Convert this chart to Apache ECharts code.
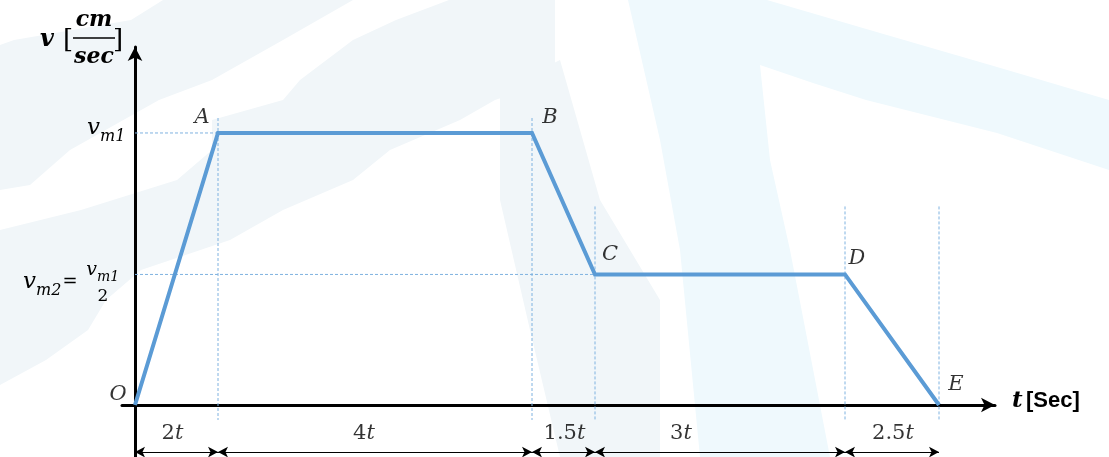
<!DOCTYPE html>
<html><head><meta charset="utf-8">
<script src="https://cdn.jsdelivr.net/npm/echarts@6/dist/echarts.min.js"></script>
<style>html,body{margin:0;padding:0;background:#fff}#c{width:1109px;height:457px}</style>
</head><body><div id="c"></div>
<script>
// ---- data ----
const pointNames = ['O', 'A', 'B', 'C', 'D', 'E'];
const timePos = [0, 83, 397, 460, 710, 804];        // break points along time axis (drawing units)
const velocity = [0, 1, 1, 0.48, 0.48, 0];           // in units of v_m1
const intervalLabels = ['2', '4', '1.5', '3', '2.5']; // each is "× t"
const vm1 = 1;
const vm2 = 0.48;

// ---- styling helpers ----
const SERIF = '"DejaVu Serif", serif';
const BLUE = '#5b9bd5';
const GUIDE = '#7fb2e0';
const labelOffsets = [[-17, -10], [-16, -15], [18, -15], [15, -20], [12, -16], [17, -20]];
const dimLabelShift = [-4, -11, 1, -39, 1];

const chart = echarts.init(document.getElementById('c'), null, {renderer: 'canvas'});

const guideSeries = [];
function guide(pts) {
  guideSeries.push({
    type: 'line', data: pts, symbol: 'none', silent: true, z: 1,
    lineStyle: {color: GUIDE, width: 1, type: [3, 2]}, animation: false
  });
}
for (let i = 1; i < timePos.length; i++) {
  const top = velocity[i] >= vm1 ? vm1 + 0.055 : vm2 + 0.25;
  guide([[timePos[i], top], [timePos[i], -0.055]]);
}
guide([[0, vm1], [timePos[1], vm1]]);
guide([[0, vm2], [timePos[3], vm2]]);

const dimY = -0.173;
const dimLines = intervalLabels.map((lab, i) => [
  {coord: [timePos[i], dimY]},
  {coord: [timePos[i + 1], dimY]}
]);

const axisCommon = {
  type: 'value',
  axisTick: {show: false}, axisLabel: {show: false}, splitLine: {show: false},
  axisLine: {onZero: true, symbol: ['none', 'arrow'], symbolSize: [11, 14],
    lineStyle: {color: '#000', width: 3}}
};

chart.setOption({
  animation: false,
  grid: {left: 122, width: 873, top: 47, height: 410, outerBoundsMode: 'none', containLabel: false},
  xAxis: Object.assign({}, axisCommon, {min: -13, max: 860}),
  yAxis: Object.assign({}, axisCommon, {min: -0.191, max: 1.316}),
  series: guideSeries.concat([
    {
      type: 'line', name: 'v', z: 5, symbol: 'none',
      data: timePos.map((t, i) => [t, velocity[i]]),
      lineStyle: {color: BLUE, width: 4, join: 'miter'},
      markLine: {
        silent: true, symbol: ['arrow', 'arrow'], symbolSize: [8, 10],
        lineStyle: {color: '#000', width: 1, type: 'solid'},
        label: {show: false},
        emphasis: {disabled: true},
        data: dimLines
      }
    },
    {
      type: 'scatter', z: 6, symbolSize: 0, silent: true,
      data: timePos.map((t, i) => ({
        value: [t, velocity[i]], name: pointNames[i],
        label: {offset: labelOffsets[i]}
      })),
      label: {show: true, position: 'inside', formatter: p => p.name,
        fontFamily: SERIF, fontStyle: 'italic', fontSize: 21, color: '#000'}
    },
    {
      type: 'scatter', z: 6, symbolSize: 0, silent: true,
      data: intervalLabels.map((lab, i) => ({
        value: [(timePos[i] + timePos[i + 1]) / 2, dimY], name: lab,
        label: {offset: [dimLabelShift[i], -19]}
      })),
      label: {show: true, position: 'inside', formatter: p => '{n|' + p.name + '}{t|t}',
        rich: {n: {fontFamily: SERIF, fontSize: 21, color: '#000'},
               t: {fontFamily: SERIF, fontSize: 21, fontStyle: 'italic', color: '#000'}}}
    }
  ])
});

const P = v => chart.convertToPixel({gridIndex: 0}, [0, v]);
const y1 = P(vm1)[1], y2 = P(vm2)[1];
function txt(text, x, y, size, opt) {
  return {type: 'text', z: 10, silent: true, style: Object.assign({
    text, x, y, fill: '#000', font: 'italic ' + size + 'px ' + SERIF,
    textAlign: 'left', textVerticalAlign: 'middle'}, opt || {})};
}
function poly(points, fill) {
  return {type: 'polygon', z: -10, silent: true, shape: {points}, style: {fill}};
}
const WL = '#f1f6f9', WR = '#eff9fd';
chart.setOption({graphic: [
  poly([[163,0],[353,0],[283,40],[212,80],[159,100],[70,150],[30,185],[0,190],[0,45],[14,40],[131,20]], WL),
  poly([[449,0],[555,0],[555,80],[495,100],[460,120],[390,150],[353,180],[283,210],[230,240],[141,270],[106,300],[88,330],[46,360],[0,385],[0,230],[81,210],[177,180],[212,150],[212,120],[283,100],[300,80],[353,40],[396,20]], WL),
  poly([[500,90],[560,60],[600,200],[660,300],[660,457],[560,457],[530,330],[500,200]], WL),
  poly([[628,0],[767,0],[880,33],[997,67],[1109,100],[1109,170],[997,133],[866,100],[813,83],[760,65],[770,160],[790,250],[830,457],[700,457],[680,250],[660,140]], WR),
  txt('v', 100, y1 - 5, 23, {textAlign: 'right'}),
  txt('m1', 100, y1 + 4, 16),
  txt('v', 36, y2 + 8, 23, {textAlign: 'right'}),
  txt('m2', 36, y2 + 16, 16),
  txt('=', 70, y2 + 8, 18, {textAlign: 'center', font: '18px ' + SERIF}),
  txt('v', 97, y2 - 4, 19, {textAlign: 'right'}),
  txt('m1', 97, y2 + 3, 14),
  txt('2', 103, y2 + 22, 17, {textAlign: 'center', font: '17px ' + SERIF}),
  txt('v', 47, 40, 24, {textAlign: 'center', font: 'italic bold 24px ' + SERIF}),
  txt('[', 68, 41, 26, {textAlign: 'center', font: '26px ' + SERIF}),
  txt(']', 118, 41, 26, {textAlign: 'center', font: '26px ' + SERIF}),
  txt('cm', 94, 20, 22, {textAlign: 'center', font: 'italic bold 22px ' + SERIF}),
  txt('sec', 94, 57, 22, {textAlign: 'center', font: 'italic bold 22px ' + SERIF}),
  {type: 'line', z: 10, silent: true, shape: {x1: 73, y1: 38, x2: 115, y2: 38}, style: {stroke: '#000', lineWidth: 1.3}},
  {type: 'text', z: 10, silent: true, style: {
    text: '{t|t} {s|[Sec]}', x: 1012, y: 401, textVerticalAlign: 'middle',
    rich: {t: {fontFamily: SERIF, fontStyle: 'italic', fontWeight: 'bold', fontSize: 23, fill: '#000'},
           s: {fontFamily: '"Liberation Sans", Arial, sans-serif', fontWeight: 'bold', fontSize: 22, fill: '#000'}}}}
]});
</script>
</body></html>
